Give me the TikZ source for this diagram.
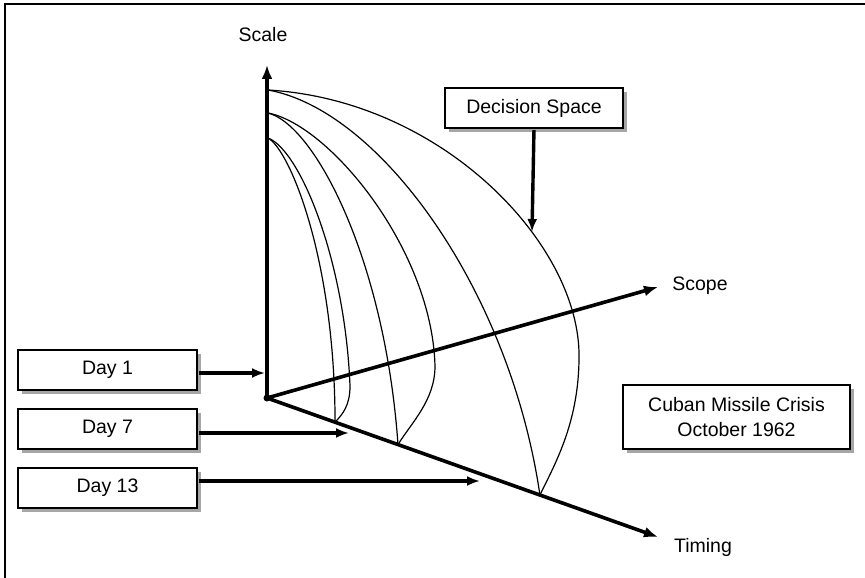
\documentclass[tikz,border=0pt]{standalone}
\usepackage{fontspec}
\setmainfont{Liberation Sans}
\usetikzlibrary{arrows.meta,calc,shadows}

\begin{document}
\begin{tikzpicture}[x=1pt, y=-1pt,
  every node/.style={font=\fontsize{19.5}{25}\selectfont},
  axis/.style={line width=3.6pt, -{Latex[length=14pt,width=11pt]}},
  pointer/.style={line width=3.4pt, -{Latex[length=13pt,width=10pt]}, shorten <=1.5pt},
  box/.style={draw, line width=1.3pt, fill=white, minimum height=40pt,
    drop shadow={shadow xshift=3.5pt, shadow yshift=-3.5pt, fill=gray!70, opacity=1}},
  curve/.style={line width=1.2pt}]
  \useasboundingbox (0,0) rectangle (865,578);
  \draw[line width=2pt] (5,578) -- (5,4) -- (865,4);

  % axes
  \coordinate (O) at (267,398);
  \coordinate (scaleEnd) at (267,65);
  \coordinate (scopeEnd) at (658,287);
  \coordinate (timingEnd) at (658,537);

  \draw[axis] (O) -- (scaleEnd);
  \draw[axis] (O) -- (scopeEnd);
  \draw[axis] (O) -- (timingEnd);
  \fill (O) circle (3.5);

  \node (scaleLbl) at (263,35) {Scale};
  \node (scopeLbl) at (700,286) {Scope};
  \node (timingLbl) at (703,547) {Timing};

  % decision space envelopes
  \coordinate (S1) at (268,90);
  \coordinate (S2) at (268,113);
  \coordinate (S3) at (268,138);
  \coordinate (E1) at ($(O)!0.174!(timingEnd)$);
  \coordinate (E2) at ($(O)!0.335!(timingEnd)$);
  \coordinate (E3) at ($(O)!0.698!(timingEnd)$);

  \draw[curve] (S3) .. controls (290,150) and (335,260) .. (E1);
  \draw[curve] (S3) .. controls (300,150) and (345,260) .. (350,386)
    .. controls (350,405) and (343,414) .. (E1);
  \draw[curve] (S2) .. controls (315,125) and (385,260) .. (E2);
  \draw[curve] (S2) .. controls (330,125) and (432,250) .. (435,366)
    .. controls (435,400) and (412,422) .. (E2);
  \draw[curve] (S1) .. controls (380,110) and (510,290) .. (E3);
  \draw[curve] (S1) .. controls (440,100) and (576,240) .. (579,352)
    .. controls (580,420) and (556,462) .. (E3);

  % labels
  \node[box, minimum width=178pt] (ds) at (534,108) {Decision Space};
  \coordinate (dsTip) at (532,232);
  \draw[pointer] (ds.south) -- (dsTip);

  \node[box, minimum width=179pt] (d1) at (107.5,370) {Day 1};
  \node[box, minimum width=179pt] (d7) at (107.5,429) {Day 7};
  \node[box, minimum width=179pt] (d13) at (107.5,488) {Day 13};
  \coordinate (t1) at (265,373);
  \coordinate (t7) at (349,433);
  \coordinate (t13) at (480,481);
  \draw[pointer] (d1.east |- t1) -- (t1);
  \draw[pointer] (d7.east |- t7) -- (t7);
  \draw[pointer] (d13.east |- t13) -- (t13);

  \node[box, minimum width=227pt, minimum height=64pt, align=center] (cmc) at (736.5,417)
    {Cuban Missile Crisis\\October 1962};
\end{tikzpicture}
\end{document}
